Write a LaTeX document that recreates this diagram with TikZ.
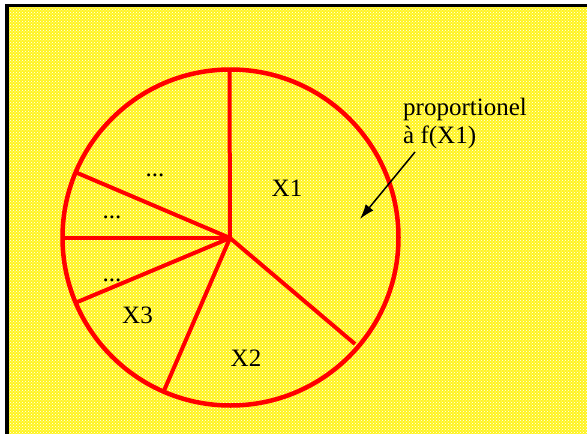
\documentclass[tikz,border=0pt]{standalone}
\usepackage{fontspec}
\setmainfont{Liberation Serif}
\newfontfamily\tnr{Liberation Serif}
\usetikzlibrary{patterns,arrows.meta}
\tikzset{
  spoke/.style={draw=red, line width=4pt},
  rim/.style={draw=red, line width=4.5pt},
  lbl/.style={anchor=base, inner sep=0pt, font=\tnr\fontsize{25}{28}\selectfont},
  pointer/.style={draw=black, line width=1.5pt, -{Latex[length=15pt,width=10pt]}}
}
\begin{document}
\begin{tikzpicture}[x=1pt,y=-1pt]
\useasboundingbox (0,0) rectangle (587,434);
\fill[white] (0,0) rectangle (587,434);
\fill[yellow!88!white] (7,5) rectangle (587,434);
\fill[pattern=crosshatch dots, pattern color=white] (7,5) rectangle (587,434);
\draw[black, line width=3pt] (5.5,5.5) -- (587,5.5);
\draw[black, line width=4pt] (7,4) -- (7,434);
% pie
\coordinate (c) at (230,238);
\draw[rim] (230.5,237.5) ellipse [x radius=168pt, y radius=168pt];
\coordinate (pTop) at (229.5,69);
\coordinate (pUL) at (75,172);
\coordinate (pL) at (62.5,238);
\coordinate (pLL) at (75,303);
\coordinate (pDL) at (163,393);
\coordinate (pDR) at (355,344);
\draw[spoke] (c) -- (pTop);
\draw[spoke] (c) -- (pUL);
\draw[spoke] (c) -- (pL);
\draw[spoke] (c) -- (pLL);
\draw[spoke] (c) -- (pDL);
\draw[spoke] (c) -- (pDR);
% labels
\node[lbl] (x1) at (287,196.5) {X1};
\node[lbl] (x2) at (246,366.5) {X2};
\node[lbl] (x3) at (137.5,323) {X3};
\node[lbl] (d1) at (155,176.5) {...};
\node[lbl] (d2) at (112,218) {...};
\node[lbl] (d3) at (112,281.5) {...};
\node[lbl, anchor=base west, align=left] (prop) at (403,115) {proportionel};
\node[lbl, anchor=base west, align=left] (fx) at (403,143) {à f(X1)};
\coordinate (arrS) at (415,152);
\coordinate (arrE) at (360,219);
\draw[pointer] (arrS) -- (arrE);
\end{tikzpicture}
\end{document}
